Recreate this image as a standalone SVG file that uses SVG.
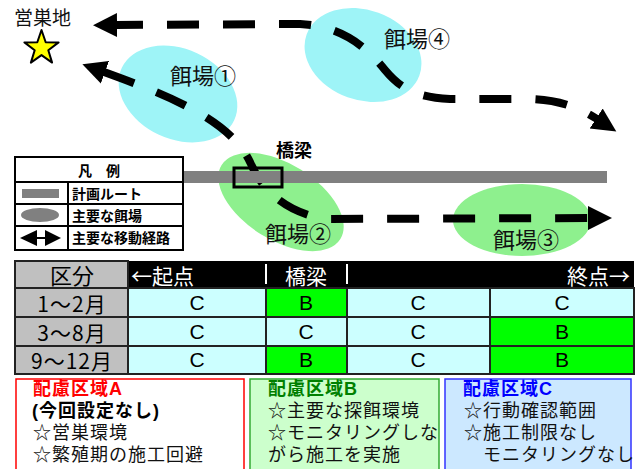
<svg xmlns="http://www.w3.org/2000/svg" width="636" height="469" viewBox="0 0 636 469">
<style>
.jp{font-family:"Noto Sans CJK JP","Noto Sans",sans-serif;}
.jpl{font-family:"Liberation Sans","Noto Sans CJK JP",sans-serif;}
.lat{font-family:"Liberation Sans",Arial,sans-serif;}
.route{fill:none;stroke:#000;stroke-width:8;stroke-dasharray:32 24;}
.cell{stroke:#222;stroke-width:2;}
.gray{fill:#c0c0c0;}
.cyan{fill:#ccffff;}
.grn{fill:#00ff00;}
.lbl{font-size:22px;fill:#111;}
.box{font-size:18px;letter-spacing:1px;}
.txt{fill:#111;}
.b{font-weight:bold;}
.red{fill:#ff0000;}
.dgreen{fill:#008000;}
.blue{fill:#0000ff;}
.blk{fill:#000;}
.leg{font-size:14px;font-weight:bold;fill:#000;}
</style>
<defs>
<marker id="ah" markerUnits="userSpaceOnUse" markerWidth="26" markerHeight="26" refX="1" refY="12" orient="auto-start-reverse" viewBox="0 0 26 24">
<path d="M0,0 L24,12 L0,24 z" fill="#000"/>
</marker>
</defs>
<rect width="636" height="469" fill="#fff"/>

<g id="feeding-1"><ellipse cx="178" cy="94" rx="62" ry="45" transform="rotate(25 178 94)" fill="#9ef4f7"/></g>
<g id="feeding-4"><ellipse cx="363" cy="55" rx="60" ry="45" transform="rotate(20 363 55)" fill="#9ef4f7"/></g>
<g id="feeding-2"><ellipse cx="281" cy="202" rx="70" ry="38" transform="rotate(32 281 202)" fill="#8ef08e"/></g>
<g id="feeding-3"><ellipse cx="522" cy="220" rx="69" ry="36" fill="#8ef08e"/></g>

<g id="connectors">
<path class="route" d="M104,72 C170,96 230,120 250,162 C262,190 285,212 325,219 L589,218" marker-start="url(#ah)" marker-end="url(#ah)"/>
<path class="route" stroke-dashoffset="5" d="M116,25 L300,24 C340,26 365,45 385,70 C400,88 415,97 450,99 L530,99 C560,100 580,108 597,119" marker-start="url(#ah)" marker-end="url(#ah)"/>
</g>

<g id="road"><rect x="183" y="171" width="424" height="12" fill="#808080"/></g>
<g id="bridge">
<rect x="234" y="168" width="48" height="19" fill="none" stroke="#000" stroke-width="3"/>
<text x="276" y="157" class="jp" font-size="18" font-weight="bold" fill="#000">橋梁</text>
</g>

<g id="nest">
<text x="14" y="25" class="jp" font-size="19" fill="#111">営巣地</text>
<polygon points="41.5,30 45.7,42.3 58.6,42.4 48.3,50.2 52.1,62.6 41.5,55.1 30.9,62.6 34.7,50.2 24.4,42.4 37.3,42.3" fill="#ffff00" stroke="#000" stroke-width="2" stroke-linejoin="round"/>
</g>

<g id="labels">
<text x="170" y="84" class="jp lbl">餌場①</text>
<text x="384" y="47" class="jp lbl">餌場④</text>
<text x="265" y="242" class="jp lbl">餌場②</text>
<text x="493" y="248" class="jp lbl">餌場③</text>
</g>

<g id="legend">
<rect x="15" y="157" width="168" height="93" fill="#fff" stroke="#000" stroke-width="2"/>
<line x1="15" y1="182" x2="183" y2="182" stroke="#000" stroke-width="2"/>
<line x1="15" y1="204" x2="183" y2="204" stroke="#000" stroke-width="2"/>
<line x1="15" y1="226" x2="183" y2="226" stroke="#000" stroke-width="2"/>
<line x1="68" y1="182" x2="68" y2="250" stroke="#000" stroke-width="2"/>
<text x="99" y="176" class="jp leg" text-anchor="middle">凡　例</text>
<rect x="22" y="189" width="37" height="9" fill="#808080"/>
<ellipse cx="40" cy="215" rx="19" ry="7" fill="#808080"/>
<polygon points="20,238 37,230 37,246" fill="#000"/>
<line x1="37" y1="238" x2="45" y2="238" stroke="#000" stroke-width="2"/>
<polygon points="61,238 45,230 45,246" fill="#000"/>
<text x="72" y="199" class="jp leg">計画ルート</text>
<text x="72" y="221" class="jp leg">主要な餌場</text>
<text x="72" y="243" class="jp leg">主要な移動経路</text>
</g>

<g id="table">
<rect x="128" y="261" width="506" height="27" fill="#000"/>
<rect x="15" y="261" width="113" height="27" class="cell gray"/>
<line x1="266" y1="264" x2="266" y2="284" stroke="#fff" stroke-width="2"/>
<line x1="347" y1="264" x2="347" y2="284" stroke="#fff" stroke-width="2"/>
<text x="72" y="284" class="jp" font-size="22" text-anchor="middle" fill="#000">区分</text>
<text x="131" y="284" class="jp" font-size="21" fill="#fff">←起点</text>
<text x="306" y="284" class="jp" font-size="21" text-anchor="middle" fill="#fff">橋梁</text>
<text x="630" y="284" class="jp" font-size="21" text-anchor="end" fill="#fff">終点→</text>

<rect x="15" y="288" width="113" height="29" class="cell gray"/>
<rect x="128" y="288" width="138" height="29" class="cell cyan"/>
<rect x="266" y="288" width="81" height="29" class="cell grn"/>
<rect x="347" y="288" width="143" height="29" class="cell cyan"/>
<rect x="490" y="288" width="144" height="29" class="cell cyan"/>

<rect x="15" y="317" width="113" height="29" class="cell gray"/>
<rect x="128" y="317" width="138" height="29" class="cell cyan"/>
<rect x="266" y="317" width="81" height="29" class="cell cyan"/>
<rect x="347" y="317" width="143" height="29" class="cell cyan"/>
<rect x="490" y="317" width="144" height="29" class="cell grn"/>

<rect x="15" y="346" width="113" height="28" class="cell gray"/>
<rect x="128" y="346" width="138" height="28" class="cell cyan"/>
<rect x="266" y="346" width="81" height="28" class="cell grn"/>
<rect x="347" y="346" width="143" height="28" class="cell cyan"/>
<rect x="490" y="346" width="144" height="28" class="cell grn"/>

<g class="jp" font-size="21" text-anchor="middle" fill="#000" letter-spacing="1">
<text x="72" y="312">1～2月</text>
<text x="72" y="341">3～8月</text>
<text x="72" y="369">9～12月</text>
</g>
<g class="lat" font-size="21" text-anchor="middle" fill="#000">
<text x="197" y="310">C</text><text x="306" y="310">B</text><text x="418" y="310">C</text><text x="562" y="310">C</text>
<text x="197" y="339">C</text><text x="306" y="339">C</text><text x="418" y="339">C</text><text x="562" y="339">B</text>
<text x="197" y="367">C</text><text x="306" y="367">B</text><text x="418" y="367">C</text><text x="562" y="367">B</text>
</g>
</g>

<g id="zone-a">
<rect x="16" y="379" width="228" height="95" fill="#fff" stroke="#ff0000" stroke-width="1.5"/>
<text x="33" y="395" class="jpl box b red">配慮区域A</text>
<text x="32" y="417" class="jpl box b blk">(今回設定なし)</text>
<text x="33" y="439" class="jpl box txt">☆営巣環境</text>
<text x="33" y="461" class="jpl box txt">☆繁殖期の施工回避</text>
</g>
<g id="zone-b">
<rect x="250" y="379" width="189" height="95" fill="#ccffcc" stroke="#33aa33" stroke-width="1.5"/>
<text x="268" y="395" class="jpl box b dgreen">配慮区域B</text>
<text x="268" y="417" class="jpl box txt">☆主要な探餌環境</text>
<text x="268" y="439" class="jpl box txt">☆モニタリングしな</text>
<text x="268" y="461" class="jpl box txt">がら施工を実施</text>
</g>
<g id="zone-c">
<rect x="445" y="379" width="186" height="95" fill="#cce8ff" stroke="#3333ff" stroke-width="1.5"/>
<text x="463" y="395" class="jpl box b blue">配慮区域C</text>
<text x="464" y="417" class="jpl box txt">☆行動確認範囲</text>
<text x="464" y="439" class="jpl box txt">☆施工制限なし</text>
<text x="483" y="461" class="jpl box txt">モニタリングなし</text>
</g>
</svg>
